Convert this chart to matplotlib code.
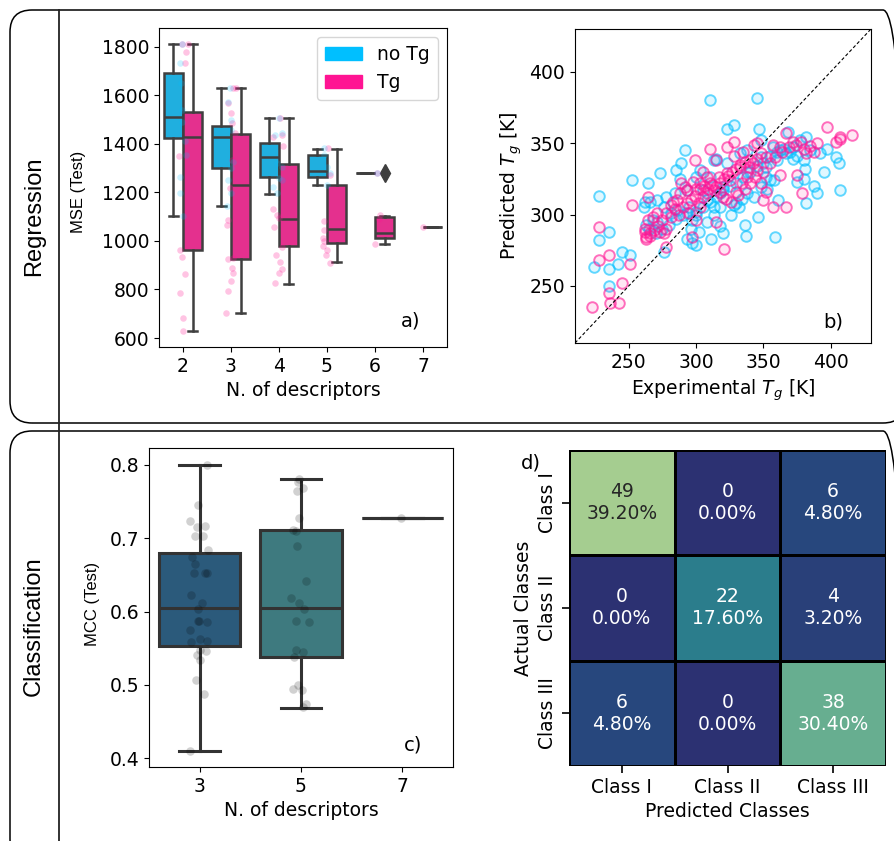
import numpy as np
import matplotlib
matplotlib.use('Agg')
import matplotlib.pyplot as plt
import seaborn as sns
from matplotlib.patches import FancyBboxPatch, Patch
from matplotlib.lines import Line2D
from matplotlib.transforms import IdentityTransform

plt.rcParams['font.size'] = 13.5

# ---- panel a: MSE vs number of descriptors (box stats)
n_desc = ['2', '3', '4', '5', '6', '7']
notg_lo = [1103, 1142, 1192, 1232, 1279]
notg_q1 = [1423, 1302, 1265, 1265, 1279]
notg_med = [1509, 1426, 1347, 1290, 1279]
notg_q3 = [1693, 1474, 1402, 1352, 1279]
notg_hi = [1811, 1629, 1505, 1380, 1279]
tg_lo = [627, 703, 824, 913, 988, 1059]
tg_q1 = [961, 926, 977, 991, 1014, 1059]
tg_med = [1427, 1231, 1090, 1050, 1032, 1059]
tg_q3 = [1533, 1441, 1316, 1232, 1098, 1059]
tg_hi = [1811, 1629, 1505, 1380, 1101, 1059]
tg_fliers = [[], [], [], [], [1279], []]

# single runs (strip points) and their jitter, per descriptor count
tg_pts = [
    [1811, 1811, 1779, 1731, 1350, 963, 933, 863, 785, 682, 627],
    [1629, 1629, 1567, 1526, 1487, 1443, 1334, 1217, 1087, 1066, 929, 925, 888, 867, 833, 792, 703],
    [1505, 1437, 1430, 1389, 1251, 1131, 1107, 1094, 1059, 973, 943, 915, 884, 867, 826],
    [1382, 1272, 1080, 1046, 1011, 998, 977, 963, 943, 911],
    [1279, 1107, 1090, 988],
    [1059],
]
tg_jit = [
    [-0.02, 0.10, 0.07, 0.05, -0.08, -0.06, -0.03, 0.05, -0.07, 0.0, 0.01],
    [0.05, 0.10, -0.06, 0.01, 0.03, 0.08, 0.03, -0.02, -0.06, -0.09, 0.05, -0.06, 0.03, 0.05, 0.01, -0.06, -0.10],
    [0.02, 0.06, -0.12, 0.08, 0.06, -0.12, -0.05, -0.01, -0.10, 0.06, -0.06, 0.02, 0.06, -0.01, -0.08],
    [0.03, 0.07, -0.07, -0.06, -0.08, -0.07, -0.08, 0.0, -0.03, 0.07],
    [0.05, 0.10, 0.08, -0.01],
    [-0.01],
]
notg_pts = [
    [1811, 1731, 1649, 1539, 1491, 1413, 1354, 1265, 1197, 1103],
    [1629, 1574, 1498, 1457, 1327, 1299, 1251, 1197, 1142],
    [1505, 1444, 1437, 1320, 1306, 1258, 1251, 1224, 1197],
    [1382, 1354, 1306, 1279, 1231],
    [1279],
    [],
]
notg_jit = [
    [-0.03, -0.06, -0.04, -0.02, -0.02, 0.05, 0.07, -0.07, -0.06, 0.0],
    [-0.02, -0.06, 0.0, 0.01, 0.05, 0.01, -0.06, -0.01, -0.09],
    [0.01, 0.06, -0.08, -0.05, 0.06, -0.01, 0.06, -0.12, -0.05],
    [-0.06, -0.07, -0.01, 0.07, 0.0],
    [0.05],
    [],
]

# ---- panel b: experimental vs predicted Tg
notg_exp = [310, 345, 323, 328, 347, 368, 382, 292, 289, 273, 252, 264, 228, 397, 404, 406,
            381, 375, 380, 390, 407, 382, 355, 361, 346, 336, 337, 359, 320, 318, 311, 300,
            297, 293, 276, 263, 235, 228, 224, 235, 242, 245, 251, 235, 261, 262, 271, 278,
            284, 288, 300, 303, 313, 315, 323, 333, 338, 348, 352, 360, 367, 372, 377, 310,
            318, 328, 330, 334, 338, 348, 357, 362, 318, 320, 297, 300, 293, 308, 286, 281,
            276, 266, 271, 338, 392, 380, 372, 352, 285, 293, 305, 313, 348,
            300, 305, 310, 315, 320, 325, 330, 335, 340, 345, 350, 355, 360, 365, 370, 375,
            385, 295, 290, 285, 280, 275, 270, 265, 268, 296, 302, 308, 313, 326, 332, 343,
            353, 358, 388, 395]
notg_pred = [380, 382, 360, 363, 360, 358, 354, 345, 336, 329, 324, 322, 313, 346, 340, 336,
             332, 323, 325, 315, 317, 308, 324, 310, 298, 293, 285, 284, 287, 292, 283, 279,
             280, 283, 274, 293, 288, 282, 263, 262, 265, 274, 272, 250, 305, 309, 310, 312,
             315, 325, 326, 331, 338, 339, 336, 343, 345, 340, 333, 338, 343, 347, 352, 326,
             305, 307, 308, 311, 315, 319, 347, 345, 315, 319, 296, 302, 301, 310, 303, 301,
             305, 309, 295, 330, 343, 338, 339, 326, 331, 317, 317, 305, 352,
             300, 305, 309, 313, 317, 320, 322, 326, 330, 334, 336, 341, 344, 346, 344, 341,
             345, 305, 300, 297, 293, 290, 287, 290, 296, 290, 288, 295, 300, 300, 305, 312,
             318, 324, 320, 330]
tg_exp = [223, 235, 236, 243, 245, 235, 228, 228, 251, 252, 264, 262, 266, 273, 278, 278,
          271, 283, 288, 292, 295, 297, 300, 289, 299, 310, 315, 317, 320, 321, 315, 323,
          328, 328, 335, 343, 345, 348, 345, 338, 334, 330, 348, 352, 350, 357, 367, 362,
          367, 372, 380, 382, 375, 379, 390, 397, 404, 407, 416, 407, 357, 362, 352, 305,
          308, 310, 313, 303, 298, 293, 286, 281, 268, 264, 323, 333, 340, 325, 308, 303,
          276, 263,
          300, 303, 306, 309, 312, 315, 318, 321, 324, 327, 330, 333, 336, 339, 342, 345,
          296, 299, 302, 305, 290, 293, 287, 284, 281, 278, 275, 272, 269, 266, 263, 262,
          318, 322, 326, 331, 336, 340, 344, 350, 355, 359, 364, 369, 374, 378, 385, 388]
tg_pred = [235, 245, 238, 238, 252, 272, 268, 291, 265, 307, 312, 290, 287, 288, 290, 277,
           301, 309, 315, 319, 301, 284, 296, 322, 338, 346, 338, 326, 312, 276, 295, 347,
           351, 341, 344, 349, 350, 343, 331, 326, 322, 316, 322, 316, 310, 305, 305, 328,
           357, 351, 346, 343, 328, 315, 350, 361, 351, 353, 356, 354, 349, 347, 340, 330,
           326, 322, 317, 318, 323, 317, 310, 307, 298, 296, 329, 333, 338, 324, 315, 305,
           287, 284,
           318, 322, 320, 318, 321, 319, 322, 325, 327, 330, 332, 335, 337, 333, 336, 339,
           310, 313, 308, 312, 305, 308, 300, 304, 298, 301, 296, 292, 289, 285, 283, 288,
           316, 311, 309, 314, 318, 322, 326, 330, 336, 340, 344, 347, 349, 351, 348, 344]

# ---- panel c: MCC vs number of descriptors
mcc_desc = ['3', '5', '7']
mcc_lo = [0.410, 0.468, 0.727]
mcc_q1 = [0.553, 0.538, 0.727]
mcc_med = [0.605, 0.605, 0.727]
mcc_q3 = [0.680, 0.711, 0.727]
mcc_hi = [0.800, 0.781, 0.727]
mcc_pts = [
    [0.800, 0.745, 0.723, 0.715, 0.716, 0.703, 0.703, 0.684, 0.675, 0.665, 0.652, 0.652, 0.652,
     0.622, 0.611, 0.604, 0.587, 0.586, 0.587, 0.575, 0.562, 0.560, 0.558, 0.548, 0.546, 0.541,
     0.534, 0.506, 0.487, 0.410],
    [0.781, 0.776, 0.768, 0.765, 0.728, 0.711, 0.710, 0.689, 0.641, 0.618, 0.612, 0.604, 0.587,
     0.586, 0.547, 0.545, 0.538, 0.500, 0.494, 0.493, 0.474, 0.470],
    [0.727],
]
mcc_jit = [
    [0.07, -0.02, -0.10, -0.03, 0.05, -0.05, 0.03, 0.08, -0.08, -0.05, -0.06, 0.05, 0.07,
     -0.09, 0.02, -0.02, -0.02, 0.07, -0.01, -0.10, 0.0, 0.07, -0.09, 0.0, 0.06, -0.03,
     0.0, -0.04, 0.04, -0.10],
    [-0.02, -0.03, 0.02, -0.04, -0.02, -0.08, -0.05, -0.04, 0.05, -0.10, -0.02, 0.03, -0.05,
     0.08, -0.05, 0.02, -0.07, -0.03, -0.08, 0.01, 0.05, 0.02],
    [-0.01],
]

# ---- panel d: confusion matrix
classes = ['Class I', 'Class II', 'Class III']
conf = np.array([[49, 0, 6],
                 [0, 22, 4],
                 [6, 0, 38]])

blue, pink = '#00bfff', '#ff1493'
blue_box, pink_box = '#20afdf', '#e4308e'

fig = plt.figure(figsize=(8.95, 8.41), dpi=100)

def px_axes(l, t, r, b):
    return fig.add_axes([l / 895, 1 - b / 841, (r - l) / 895, (b - t) / 841])

# frames around the two rows
fig.add_artist(FancyBboxPatch((10, 418), 895, 413, boxstyle='round,pad=0,rounding_size=22',
                              fc='none', ec='black', lw=1.1, transform=IdentityTransform()))
fig.add_artist(FancyBboxPatch((10, -20), 895, 430, boxstyle='round,pad=0,rounding_size=22',
                              fc='none', ec='black', lw=1.1, transform=IdentityTransform()))
fig.add_artist(Line2D([59, 59], [0, 831], color='#222222', lw=1.3, transform=IdentityTransform()))
fig.text(34, 841 - 216, 'Regression', rotation=90, ha='center', va='center', fontsize=17,
         family=['Liberation Sans', 'DejaVu Sans'], transform=IdentityTransform())
fig.text(34, 841 - 626, 'Classification', rotation=90, ha='center', va='center', fontsize=17,
         family=['Liberation Sans', 'DejaVu Sans'], transform=IdentityTransform())

# ---- a)
axa = px_axes(159, 28, 447, 347)
lw_a = 1.8
box_kw = dict(patch_artist=True, showfliers=True, manage_ticks=False,
              whiskerprops=dict(color='#3f3f3f', lw=lw_a),
              capprops=dict(color='#3f3f3f', lw=lw_a),
              medianprops=dict(color='#3f3f3f', lw=lw_a),
              flierprops=dict(marker='d', markerfacecolor='#3f3f3f', markeredgecolor='#3f3f3f',
                              markersize=9))
notg_stats = [dict(whislo=notg_lo[i], q1=notg_q1[i], med=notg_med[i], q3=notg_q3[i],
                   whishi=notg_hi[i], fliers=[]) for i in range(len(notg_med))]
tg_stats = [dict(whislo=tg_lo[i], q1=tg_q1[i], med=tg_med[i], q3=tg_q3[i],
                 whishi=tg_hi[i], fliers=tg_fliers[i]) for i in range(len(tg_med))]
pos_n = np.arange(len(notg_stats)) - 0.2
pos_t = np.arange(len(tg_stats)) + 0.2
axa.bxp(notg_stats, positions=pos_n, widths=0.39, capwidths=0.2,
        boxprops=dict(facecolor=blue_box, edgecolor='#3f3f3f', lw=lw_a), **box_kw)
axa.bxp(tg_stats, positions=pos_t, widths=0.39, capwidths=0.2,
        boxprops=dict(facecolor=pink_box, edgecolor='#3f3f3f', lw=lw_a), **box_kw)
for i in range(len(n_desc)):
    axa.scatter(i + np.array(tg_jit[i]), tg_pts[i], s=22, color=pink, alpha=0.25,
                lw=0, zorder=4)
    if notg_pts[i]:
        axa.scatter(i + np.array(notg_jit[i]), notg_pts[i], s=22, color=blue, alpha=0.2,
                    lw=0, zorder=4)
axa.set_xlim(-0.5, 5.5)
axa.set_ylim(563, 1877)
axa.set_xticks(range(len(n_desc)))
axa.set_xticklabels(n_desc)
axa.set_yticks(range(600, 1801, 200))
axa.set_xlabel('N. of descriptors')
axa.legend(handles=[Patch(color=blue, label='no Tg'), Patch(color=pink, label='Tg')],
           loc='upper right')
axa.text(0.875, 0.08, 'a)', transform=axa.transAxes, ha='center', va='center', fontsize=14)
fig.text(79, 841 - 192, 'MSE (Test)', rotation=90, ha='center', va='center', fontsize=12,
         family=['Liberation Sans', 'DejaVu Sans'], transform=IdentityTransform())

# ---- b)
axb = px_axes(575, 29, 871, 343)
axb.scatter(notg_exp, notg_pred, s=58, facecolors=(0, 0.75, 1, 0.12),
            edgecolors=(0, 0.75, 1, 0.6), lw=1.4)
axb.scatter(tg_exp, tg_pred, s=58, facecolors=(1, 0.08, 0.58, 0.1),
            edgecolors=(1, 0.08, 0.58, 0.6), lw=1.4)
axb.plot([210, 430], [210, 430], 'k--', lw=0.8, dashes=(3, 2))
axb.set_xlim(210, 430)
axb.set_ylim(210, 430)
axb.set_xticks([250, 300, 350, 400])
axb.set_yticks([250, 300, 350, 400])
axb.set_xlabel('Experimental $T_g$ [K]')
axb.set_ylabel('Predicted $T_g$ [K]')
axb.text(0.872, 0.068, 'b)', transform=axb.transAxes, ha='center', va='center', fontsize=14)

# ---- c)
axc = px_axes(149, 448, 453, 767)
lw_c = 2.2
mcc_colors = ['#2b5a7b', '#3e7a7f', '#4a9a8a']
mcc_stats = [dict(whislo=mcc_lo[i], q1=mcc_q1[i], med=mcc_med[i], q3=mcc_q3[i],
                  whishi=mcc_hi[i], fliers=[]) for i in range(len(mcc_desc))]
bc = axc.bxp(mcc_stats, positions=range(len(mcc_desc)), widths=0.8, capwidths=0.4,
             patch_artist=True, manage_ticks=False,
             boxprops=dict(edgecolor='#333333', lw=lw_c),
             whiskerprops=dict(color='#333333', lw=lw_c),
             capprops=dict(color='#333333', lw=lw_c),
             medianprops=dict(color='#333333', lw=lw_c))
for patch, c in zip(bc['boxes'], mcc_colors):
    patch.set_facecolor(c)
for i in range(len(mcc_desc)):
    axc.scatter(i + np.array(mcc_jit[i]), mcc_pts[i], s=38, color='black', alpha=0.18,
                lw=0, zorder=4)
axc.set_xlim(-0.5, 2.5)
axc.set_ylim(0.388, 0.823)
axc.set_xticks(range(len(mcc_desc)))
axc.set_xticklabels(mcc_desc)
axc.set_yticks([0.4, 0.5, 0.6, 0.7, 0.8])
axc.set_xlabel('N. of descriptors')
axc.text(0.868, 0.07, 'c)', transform=axc.transAxes, ha='center', va='center', fontsize=14)
fig.text(92, 841 - 604, 'MCC (Test)', rotation=90, ha='center', va='center', fontsize=12,
         family=['Liberation Sans', 'DejaVu Sans'], transform=IdentityTransform())

# ---- d)
axd = px_axes(569, 450, 886, 766)
pct = conf / conf.sum()
labels = np.array([[f'{conf[i, j]}\n{pct[i, j]:.2%}' for j in range(3)] for i in range(3)])
sns.heatmap(conf, ax=axd, annot=labels, fmt='', cmap='crest_r', cbar=False,
            linewidths=1.0, linecolor='black', annot_kws={'size': 13.5})
axd.set_xticklabels(classes)
axd.set_yticklabels(classes, rotation=90, va='center')
axd.tick_params(length=5, width=1.2)
axd.set_xlabel('Predicted Classes')
axd.set_ylabel('Actual Classes')
fig.text(531, 841 - 463, 'd)', ha='center', va='center', fontsize=14,
         transform=IdentityTransform())

fig.savefig('out.png', dpi=100)
